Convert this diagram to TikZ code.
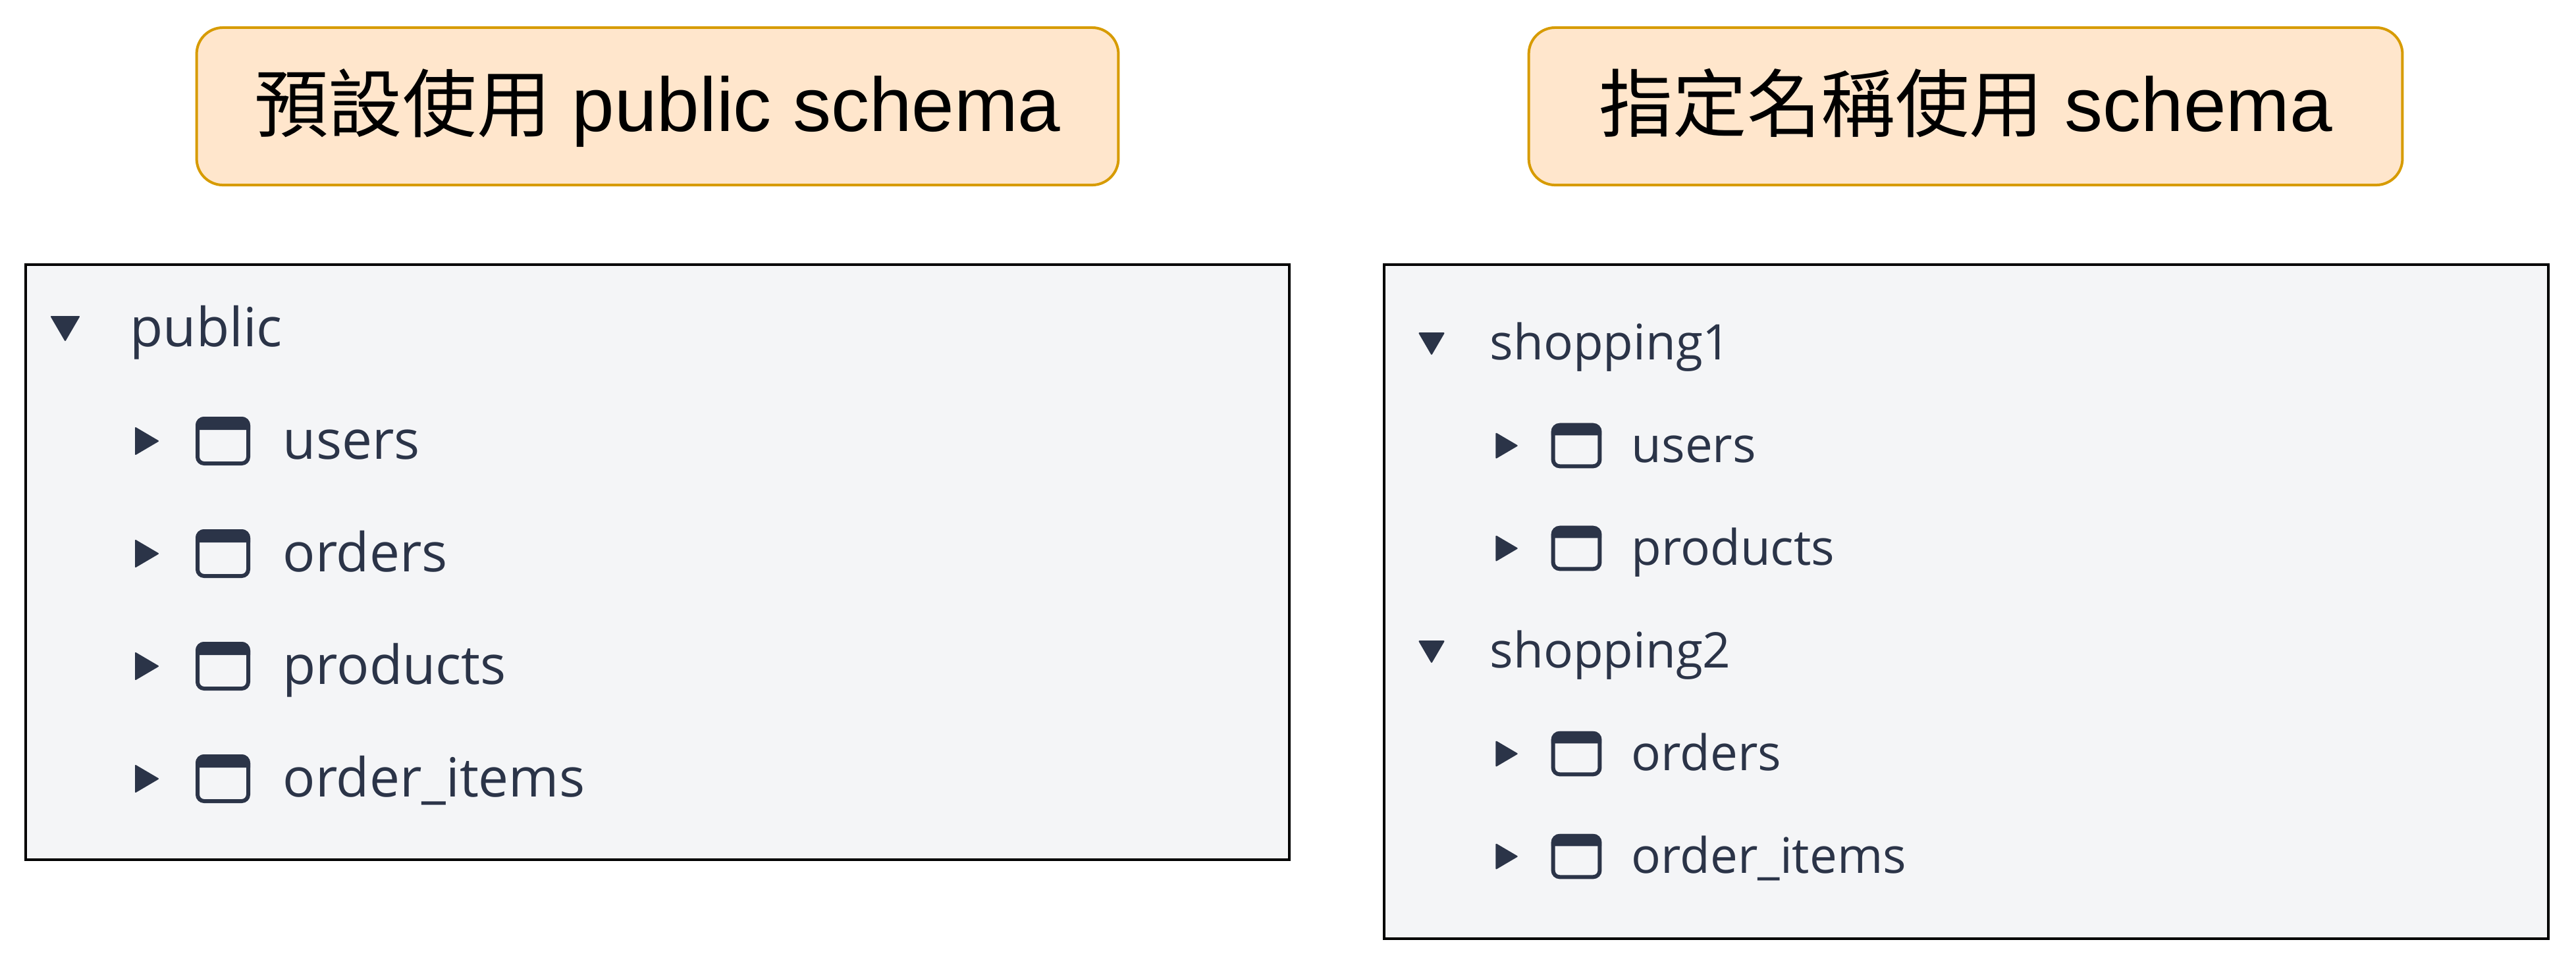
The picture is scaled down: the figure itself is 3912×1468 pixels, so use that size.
\documentclass[tikz,border=0pt]{standalone}
\usepackage{fontspec}
\setmainfont{Liberation Sans}
\newfontfamily\cjk{Noto Sans CJK TC}
\newfontfamily\listfont{Open Sans}
\definecolor{headerfill}{HTML}{FFE6CC}
\definecolor{headerline}{HTML}{D79B00}
\definecolor{panelfill}{HTML}{F4F5F7}
\definecolor{rowink}{HTML}{2B3448}
\tikzset{
    header/.style={draw=headerline,fill=headerfill,line width=0.04cm,rounded corners=0.4cm,
                   font=\fontsize{33}{36}\selectfont,text=black,inner sep=0pt,
                   text height=1.0cm,text depth=0.24cm},
    panel/.style={draw=black,fill=panelfill,line width=0.04cm,inner sep=0pt},
    bigrow/.style={anchor=base west,inner sep=0pt,text=rowink,font=\listfont\fontsize{23.3}{26}\selectfont},
    smallrow/.style={anchor=base west,inner sep=0pt,text=rowink,font=\listfont\fontsize{21.2}{24}\selectfont},
    tableicon/.pic={
        \draw [rowink,line width=0.06cm,rounded corners=0.1cm] (-38.5,-34) rectangle (38.5,34);
        \fill [rowink] (-41.5,-17) [rounded corners=0.13cm] -- (-41.5,-37) -- (41.5,-37) [sharp corners] -- (41.5,-17) -- cycle;
    },
    openmark/.pic={\filldraw [rowink,line width=0.02cm,line join=round] (-21,-18) -- (21,-18) -- (0,18) -- cycle;},
    closedmark/.pic={\filldraw [rowink,line width=0.02cm,line join=round] (-17,-20) -- (17,0) -- (-17,20) -- cycle;}
}

\begin{document}
\begin{tikzpicture}[x=0.01cm,y=-0.01cm]
\useasboundingbox (0,0) rectangle (3912,1468);

% titles
\node (leftheader) at (998.5,161.5) [header,minimum width=13.99cm,minimum height=2.39cm] {{\cjk\fontsize{32}{36}\selectfont 預設使用} public schema};
\node (rightheader) at (2985,161.5) [header,minimum width=13.26cm,minimum height=2.39cm] {{\cjk\fontsize{32}{36}\selectfont 指定名稱使用} schema};

% panels
\node (leftpanel) at (998.25,854) [panel,minimum width=19.175cm,minimum height=9.04cm] {};
\node (rightpanel) at (2985.5,914) [panel,minimum width=17.67cm,minimum height=10.24cm] {};

% left list
\begin{scope}[every node/.style={bigrow}]
    \pic at (99,499) {openmark};
    \node (public) at (197,526) {public};

    \pic at (223,670) {closedmark};
    \pic at (338.5,670) {tableicon};
    \node (leftusers) at (429,697) {users};

    \pic at (223,841) {closedmark};
    \pic at (338.5,841) {tableicon};
    \node (leftorders) at (429,868) {orders};

    \pic at (223,1012) {closedmark};
    \pic at (338.5,1012) {tableicon};
    \node (leftproducts) at (429,1039) {products};

    \pic at (223,1183) {closedmark};
    \pic at (338.5,1183) {tableicon};
    \node (leftitems) at (429,1210) {order\_items};
\end{scope}

% right list
\begin{scope}[every node/.style={smallrow}]
    \pic [scale=0.88] at (2174,522) {openmark};
    \node (shopone) at (2262,546) {shopping1};

    \pic [scale=0.92] at (2288,677) {closedmark};
    \pic [scale=0.92] at (2394,677) {tableicon};
    \node (rightusers) at (2477,702) {users};

    \pic [scale=0.92] at (2288,833) {closedmark};
    \pic [scale=0.92] at (2394,833) {tableicon};
    \node (rightproducts) at (2477,858) {products};

    \pic [scale=0.88] at (2174,990) {openmark};
    \node (shoptwo) at (2262,1014) {shopping2};

    \pic [scale=0.92] at (2288,1145) {closedmark};
    \pic [scale=0.92] at (2394,1145) {tableicon};
    \node (rightorders) at (2477,1170) {orders};

    \pic [scale=0.92] at (2288,1301) {closedmark};
    \pic [scale=0.92] at (2394,1301) {tableicon};
    \node (rightitems) at (2477,1326) {order\_items};
\end{scope}
\end{tikzpicture}
\end{document}
